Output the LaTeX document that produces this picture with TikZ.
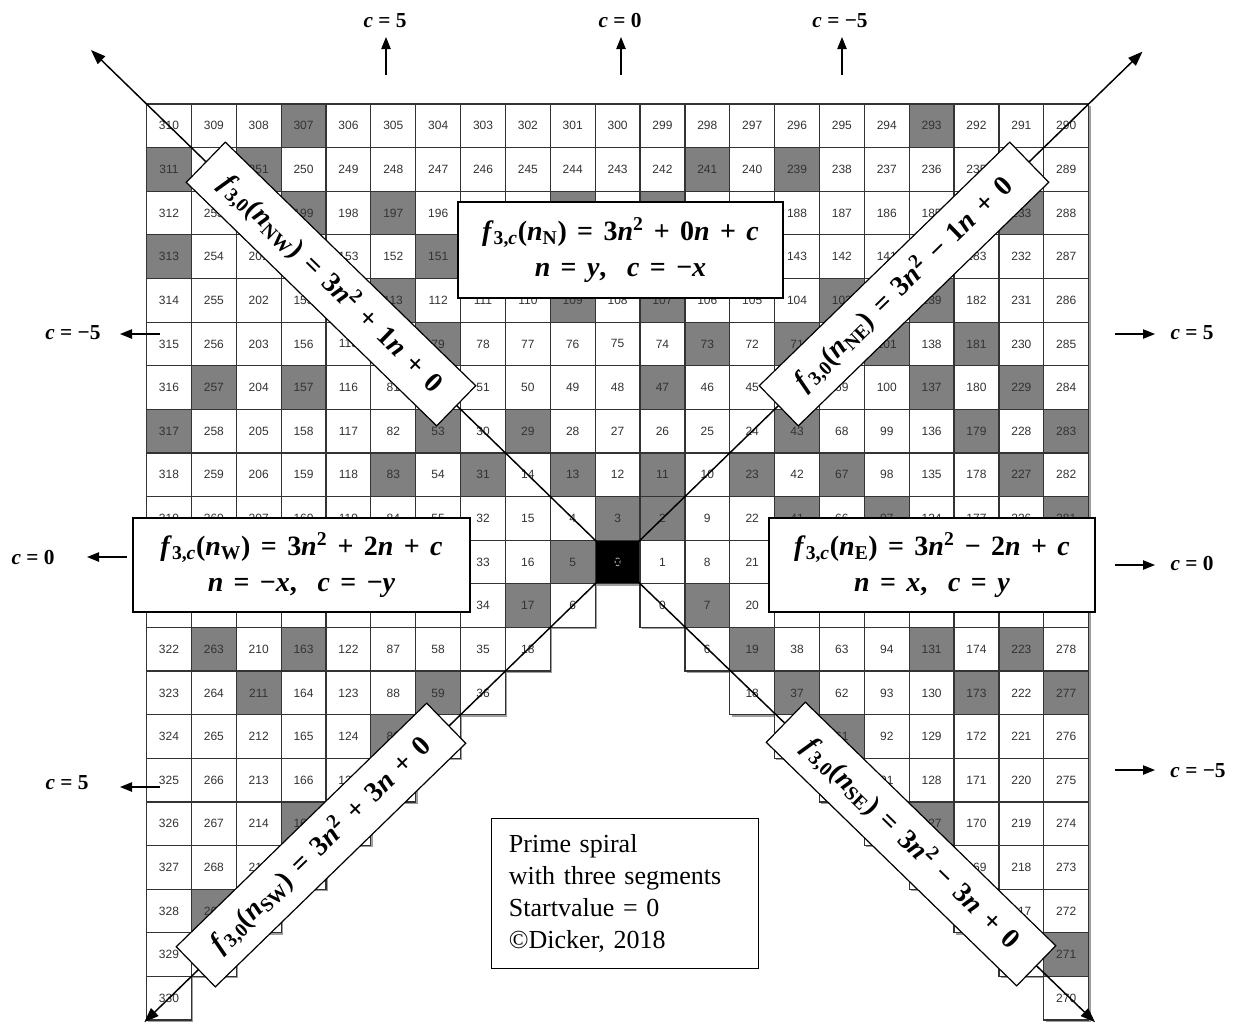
\documentclass[tikz,border=0pt]{standalone}
\usepackage{fontspec}
\setmainfont{Liberation Serif}
\newfontfamily\cellfont{Liberation Sans}
\usepackage{tikz}
\usetikzlibrary{arrows.meta, positioning}

\definecolor{primegray}{gray}{0.5}
\definecolor{gridline}{gray}{0.2}
\definecolor{shadowgray}{gray}{0.62}

% primality test, result in \ifprimecell
\newcount\dvsr
\newif\ifprimecell
\newcommand{\testprime}[1]{%
  \primecelltrue
  \ifnum#1<2 \primecellfalse\fi
  \dvsr=2
  \loop\ifnum\numexpr\dvsr*\dvsr\relax<\numexpr#1+1\relax
    \ifnum\numexpr(#1/\dvsr)*\dvsr\relax=#1\relax\primecellfalse\fi
    \advance\dvsr by 1
  \repeat}

% value of spiral cell (x,y); \ck: 0 = empty, 1 = start cell, 2 = number
\newcommand{\spiralcell}[2]{%
  \pgfmathtruncatemacro\rn{max(abs(#1),abs(#2))}%
  \ifnum\rn=0\relax \def\cv{0}\def\ck{1}%
  \else\ifnum#1=\rn\relax
    \pgfmathtruncatemacro\cv{3*\rn*\rn-2*\rn+(#2)}\def\ck{2}%
  \else\ifnum#1=-\rn\relax
    \pgfmathtruncatemacro\cv{3*\rn*\rn+2*\rn-(#2)}\def\ck{2}%
  \else\ifnum#2=\rn\relax
    \pgfmathtruncatemacro\cv{3*\rn*\rn-(#1)}\def\ck{2}%
  \else\def\ck{0}\fi\fi\fi\fi}

\newcommand{\vi}[1]{\textit{#1}}
\newcommand{\formfont}{\bfseries\fontsize{21}{27}\selectfont\spaceskip=0.37em plus 0.1em\relax}

\begin{document}
\begin{tikzpicture}[x=0.75pt, y=-0.75pt,
  cellnum/.style={font=\cellfont\fontsize{9}{10}\selectfont, text=black!80, inner sep=0pt},
  diagline/.style={line width=1.1pt, {Triangle[length=11pt,width=8pt]}-{Triangle[length=11pt,width=8pt]}},
  carrow/.style={line width=1pt, -{Triangle[length=9pt,width=7pt]}},
  clabel/.style={font=\bfseries\fontsize{16}{18}\selectfont, inner sep=1pt},
  formulabox/.style={draw, fill=white, line width=0.9pt, align=center,
    font=\formfont, inner sep=2pt},
  diagbox/.style={draw, fill=white, line width=0.9pt, minimum width=262pt,
    minimum height=42pt, font=\formfont, inner sep=2pt}]

    \useasboundingbox (0,0) rectangle (1237,1026);
    \fill[white] (0,0) rectangle (1237,1026);

    % Spiral grid: cell (x,y) centred at (x,y)
    \begin{scope}[shift={(617.6,562)}, x=33.645pt, y=32.715pt]
      % shadows
      \foreach \x in {-10,...,10}
        \foreach \y in {-10,...,10}{
          \spiralcell{\x}{\y}
          \ifnum\ck>0
            \fill[shadowgray, xshift=1.4pt, yshift=-1.4pt] (\x-0.5,\y-0.5) rectangle (\x+0.5,\y+0.5);
          \fi
        }
      % cells
      \foreach \x in {-10,...,10}
        \foreach \y in {-10,...,10}{
          \spiralcell{\x}{\y}
          \ifcase\ck
          \or
            \fill[black] (\x-0.5,\y-0.5) rectangle (\x+0.5,\y+0.5);
            \draw[gridline, line width=0.9pt] (\x-0.5,\y-0.5) rectangle (\x+0.5,\y+0.5);
            \node[cellnum, text=gray!55] (c\x_\y) at (\x,\y) {\cv};
          \or
            \testprime{\cv}
            \ifprimecell
              \fill[primegray] (\x-0.5,\y-0.5) rectangle (\x+0.5,\y+0.5);
            \else
              \fill[white] (\x-0.5,\y-0.5) rectangle (\x+0.5,\y+0.5);
            \fi
            \draw[gridline, line width=0.9pt] (\x-0.5,\y-0.5) rectangle (\x+0.5,\y+0.5);
            \node[cellnum] (c\x_\y) at (\x,\y) {\cv};
          \fi
        }
    \end{scope}

    % Diagonals through the start cell
    \coordinate (ctr) at (617.6,562);
    \coordinate (tipNW) at (91,50);
    \coordinate (tipNE) at (1142.5,51.6);
    \coordinate (tipSW) at (144.3,1022.2);
    \coordinate (tipSE) at (1095,1022.2);
    \draw[diagline] (tipSW) -- (ctr) -- (tipNE);
    \draw[diagline] (tipSE) -- (ctr) -- (tipNW);

    % Segment formulas
    \node[formulabox, minimum width=243.75pt, minimum height=72pt] (boxN) at (620.5,250)
      {\vi{f}\textsubscript{3,\vi{c}}(\vi{n}\textsubscript{N}) = 3\vi{n}\textsuperscript{2} + 0\vi{n} + \vi{c}\\
       \vi{n} = \vi{y},\ \ \vi{c} = −\vi{x}};
    \node[formulabox, minimum width=252.75pt, minimum height=70.5pt] (boxW) at (301.5,565)
      {\vi{f}\textsubscript{3,\vi{c}}(\vi{n}\textsubscript{W}) = 3\vi{n}\textsuperscript{2} + 2\vi{n} + \vi{c}\\
       \vi{n} = −\vi{x},\ \ \vi{c} = −\vi{y}};
    \node[formulabox, minimum width=244.5pt, minimum height=70.5pt] (boxE) at (932,565)
      {\vi{f}\textsubscript{3,\vi{c}}(\vi{n}\textsubscript{E}) = 3\vi{n}\textsuperscript{2} − 2\vi{n} + \vi{c}\\
       \vi{n} = \vi{x},\ \ \vi{c} = \vi{y}};

    % Diagonal formulas
    \node[diagbox, rotate=-44.2] (boxNW) at (331,284)
      {\vi{f}\textsubscript{3,0}(\vi{n}\textsubscript{NW}) = 3\vi{n}\textsuperscript{2} + 1\vi{n} + 0};
    \node[diagbox, rotate=44.2] (boxNE) at (904,284)
      {\vi{f}\textsubscript{3,0}(\vi{n}\textsubscript{NE}) = 3\vi{n}\textsuperscript{2} − 1\vi{n} + 0};
    \node[diagbox, rotate=44.2] (boxSW) at (321,845)
      {\vi{f}\textsubscript{3,0}(\vi{n}\textsubscript{SW}) = 3\vi{n}\textsuperscript{2} + 3\vi{n} + 0};
    \node[diagbox, rotate=-44.2] (boxSE) at (911,844)
      {\vi{f}\textsubscript{3,0}(\vi{n}\textsubscript{SE}) = 3\vi{n}\textsuperscript{2} − 3\vi{n} + 0};

    % Info
    \node[draw, fill=white, line width=0.9pt, anchor=north west, align=left,
      minimum width=200pt, minimum height=112.5pt, text width=174pt, inner xsep=12.75pt,
      font=\fontsize{19.5}{24}\selectfont] (infobox) at (491,818)
      {Prime spiral\\with three segments\\Startvalue = 0\\©Dicker, 2018};

    % Directions of c
    \node[clabel] (lblT5) at (385,21) {\vi{c} = 5};
    \node[clabel] (lblT0) at (620,21) {\vi{c} = 0};
    \node[clabel] (lblTm5) at (840,21) {\vi{c} = −5};
    \node[clabel] (lblLm5) at (73,333) {\vi{c} = −5};
    \node[clabel] (lblL0) at (33,557) {\vi{c} = 0};
    \node[clabel] (lblL5) at (67,783) {\vi{c} = 5};
    \node[clabel] (lblR5) at (1192,333) {\vi{c} = 5};
    \node[clabel] (lblR0) at (1192,563) {\vi{c} = 0};
    \node[clabel] (lblRm5) at (1198,771) {\vi{c} = −5};

    \coordinate (tT5a) at (386,75);   \coordinate (tT5b) at (386,37);
    \coordinate (tT0a) at (621,75);   \coordinate (tT0b) at (621,37);
    \coordinate (tTm5a) at (842,75);  \coordinate (tTm5b) at (842,37);
    \coordinate (tLm5a) at (160,334); \coordinate (tLm5b) at (120,334);
    \coordinate (tL0a) at (127,557);  \coordinate (tL0b) at (87,557);
    \coordinate (tL5a) at (160,787);  \coordinate (tL5b) at (120,787);
    \coordinate (tR5a) at (1115,334); \coordinate (tR5b) at (1155,334);
    \coordinate (tR0a) at (1115,565); \coordinate (tR0b) at (1155,565);
    \coordinate (tRm5a) at (1115,770); \coordinate (tRm5b) at (1155,770);
    \foreach \a in {T5,T0,Tm5,Lm5,L0,L5,R5,R0,Rm5}
      \draw[carrow] (t\a a) -- (t\a b);
\end{tikzpicture}
\end{document}
